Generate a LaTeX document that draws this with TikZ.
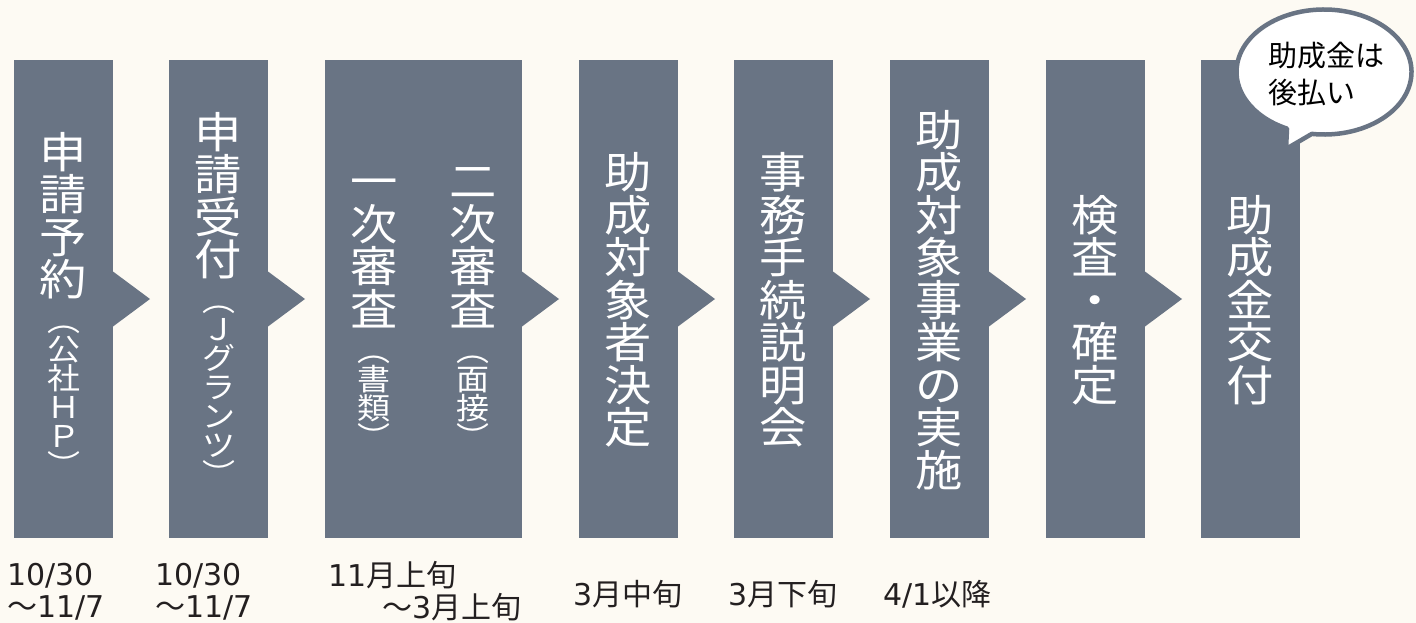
\documentclass[tikz,border=0pt]{standalone}
\usepackage{fontspec}
\setmainfont{Noto Sans CJK JP}
\newfontfamily\vfont[FakeStretch=1.1]{Noto Sans CJK JP}
\newfontfamily\dvfont{DejaVu Sans}
\usetikzlibrary{calc}
\definecolor{slate}{RGB}{105,116,132}
\definecolor{cream}{RGB}{253,250,243}
\definecolor{inkc}{RGB}{35,31,32}
\makeatletter
\newcommand\vtline[1]{\hbox to 0pt{\hss\vrule height .88em depth .12em width 0pt\relax #1\hss}}
\newcommand\vstack[1]{\@tfor\vt@c:=#1\do{\vtline{\vt@c}}}
\makeatother
\newcommand\LF{\vfont\fontsize{43pt}{42.5pt}\selectfont\baselineskip=42.5pt\relax}
\newcommand\SF{\vfont\fontsize{30pt}{29pt}\selectfont\baselineskip=29pt\relax}
\newcommand\vtx[1]{\vbox{\lineskiplimit=-\maxdimen\lineskip=0pt\relax #1}}
\newcommand\dg[1]{{\dvfont #1}}
\tikzset{
  stepbox/.style={fill=slate, draw=none, minimum height=478pt, inner sep=0pt, outer sep=0pt},
  vt/.style={text=white, inner sep=0pt, anchor=north},
  vtc/.style={text=white, inner sep=0pt, anchor=center},
  datetxt/.style={text=inkc, inner sep=0pt, anchor=base west, font=\fontsize{30pt}{32pt}\selectfont},
  bubble/.style={fill=white, draw=slate, line width=4.5pt, line join=round},
  bubtxt/.style={text=black, inner sep=0pt, anchor=base west, font=\fontsize{29pt}{37pt}\selectfont}
}
\newcommand\notch[1]{\fill[slate] ($(#1.east)+(0,-27.5)$) -- ($(#1.east)+(37,0)$) -- ($(#1.east)+(0,27.5)$) -- cycle;}
\begin{document}
\begin{tikzpicture}[x=1pt,y=-1pt]
\useasboundingbox (0,0) rectangle (1416,623);
\fill[cream] (0,0) rectangle (1416,623);
% boxes
\node[stepbox, minimum width=99pt] (b1) at (63.5,299) {};
\node[stepbox, minimum width=99pt] (b2) at (218.5,299) {};
\node[stepbox, minimum width=197pt] (b3) at (423.5,299) {};
\node[stepbox, minimum width=99pt] (b4) at (628.5,299) {};
\node[stepbox, minimum width=99pt] (b5) at (783.5,299) {};
\node[stepbox, minimum width=99pt] (b6) at (939.5,299) {};
\node[stepbox, minimum width=99pt] (b7) at (1095.5,299) {};
\node[stepbox, minimum width=99pt] (b8) at (1250.5,299) {};
\notch{b1}\notch{b2}\notch{b3}\notch{b4}\notch{b5}\notch{b6}\notch{b7}
% vertical texts
\node[vt] (t1) at (63.5,130) {\vtx{\LF\vstack{申請予約}\SF\baselineskip=36pt\vtline{︵}\baselineskip=29pt\vstack{公社ＨＰ︶}}};
\node[vt] (t2) at (218.5,110) {\vtx{\LF\vstack{申請受付}\SF\baselineskip=36pt\vtline{︵}\baselineskip=29pt\vstack{Ｊグランツ︶}}};
\node[vt] (t3a) at (374,159.5) {\vtx{\LF\vstack{一次審査}\SF\baselineskip=36pt\vtline{︵}\baselineskip=29pt\vstack{書類︶}}};
\node[vt] (t3b) at (473,159.5) {\vtx{\LF\vstack{二次審査}\SF\baselineskip=36pt\vtline{︵}\baselineskip=29pt\vstack{面接︶}}};
\node[vtc] (t4) at (628.5,300) {\vtx{\LF\vstack{助成対象者決定}}};
\node[vtc] (t5) at (783.5,300) {\vtx{\LF\vstack{事務手続説明会}}};
\node[vtc] (t6) at (939.5,300) {\vtx{\LF\vstack{助成対象事業の実施}}};
\node[vtc] (t7) at (1095.5,300) {\vtx{\LF\vstack{検査・確定}}};
\node[vtc] (t8) at (1250.5,300) {\vtx{\LF\vstack{助成金交付}}};
% dates
\node[datetxt] (d1) at (7,617) {\vtx{\hbox{\dg{10/30}}\hbox{～\dg{11/7}}}};
\node[datetxt] (d2) at (155,617) {\vtx{\hbox{\dg{10/30}}\hbox{～\dg{11/7}}}};
\node[datetxt] (d3) at (328,618) {\vtx{\hbox{\dg{11}月上旬}\hbox{\hspace{54pt}～\dg{3}月上旬}}};
\node[datetxt] (d4) at (573,605) {\dg{3}月中旬};
\node[datetxt] (d5) at (728,605) {\dg{3}月下旬};
\node[datetxt] (d6) at (883,605) {\dg{4/1}以降};
% speech bubble
\coordinate (bc) at (1324,72);
\coordinate (tip) at (1286,149);
\draw[bubble] ($(bc)+(262:87.5pt and 62.5pt)$) arc[start angle=262, end angle=605, x radius=87.5pt, y radius=62.5pt] -- (tip) -- cycle;
\node[bubtxt] (bt) at (1268,104) {\vtx{\hbox{助成金は}\hbox{後払い}}};
\end{tikzpicture}
\end{document}
